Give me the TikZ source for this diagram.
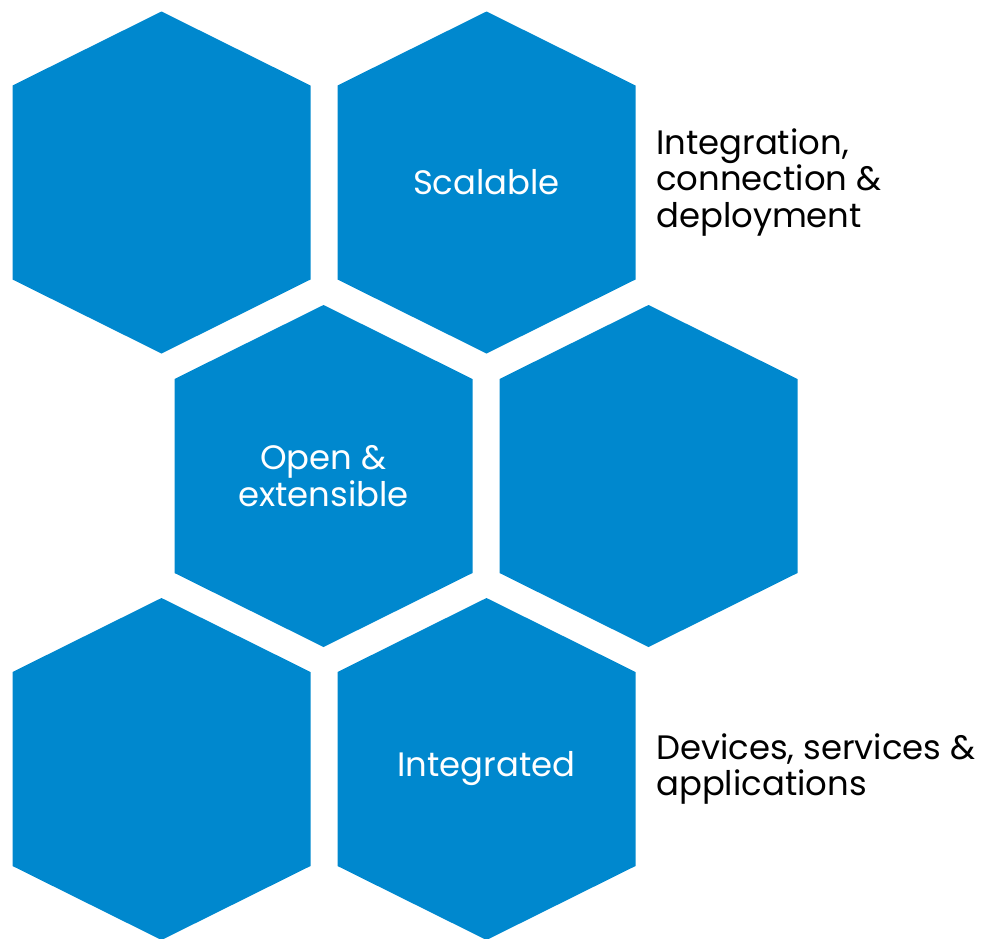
\documentclass[tikz,border=0pt]{standalone}
\usepackage{fontspec}
\setmainfont{Poppins}
\definecolor{hexblue}{HTML}{0088CE}

\begin{document}
\begin{tikzpicture}[
    x=1bp, y=-1bp,
    hexa/.pic={\fill[hexblue] (0,-171) -- (149,-97) -- (149,97) -- (0,171)
        -- (-149,97) -- (-149,-97) -- cycle;},
    hexlabel/.style={inner sep=0pt, text=white, align=center,
        font=\fontsize{34}{37}\selectfont},
    side/.style={anchor=west, align=left, inner sep=0pt,
        font=\fontsize{34}{37}\selectfont}
]
    \useasboundingbox (0,0) rectangle (987,939);

    % Top row
    \pic at (161.5, 182.5) {hexa};
    \pic at (486.5, 182.5) {hexa};
    \node[hexlabel] (h2) at (486.5, 182.5) {Scalable};

    % Middle row
    \pic at (323.5, 476) {hexa};
    \pic at (648.5, 476) {hexa};
    \node[hexlabel] (h3) at (323.5, 476) {Open \&\\extensible};

    % Bottom row
    \pic at (161.5, 769) {hexa};
    \pic at (486.5, 769) {hexa};
    \node[hexlabel] (h6) at (486.5, 769) {Integrated};

    % Side labels
    \node[side] (top) at (656, 182.5) {Integration,\\connection \&\\deployment};
    \node[side] (bottom) at (656, 769) {Devices, services \&\\applications};
\end{tikzpicture}
\end{document}
